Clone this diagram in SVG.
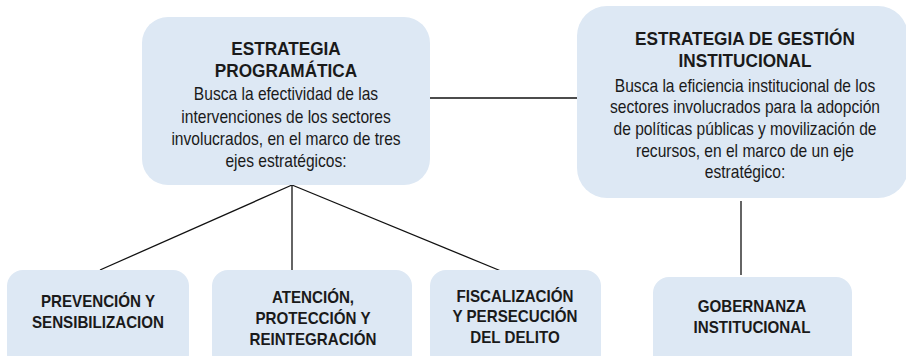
<svg xmlns="http://www.w3.org/2000/svg" width="906" height="356" viewBox="0 0 906 356">
<style>
.box{fill:#dde8f4;stroke:none}
.t{font-family:"Liberation Sans",Arial,sans-serif;fill:#1a1a1a;text-anchor:middle}
.h{font-weight:bold;font-size:18.5px}
.hs{font-weight:bold;font-size:16.3px}
.b{font-size:17.7px}
.c{stroke:#111;stroke-width:1.3;fill:none}
</style>
<rect width="906" height="356" fill="#ffffff"/>
<g id="connectors">
<line class="c" x1="430" y1="98" x2="578" y2="98"/>
<line class="c" x1="292" y1="185" x2="100" y2="270"/>
<line class="c" x1="292" y1="185" x2="292" y2="272"/>
<line class="c" x1="292" y1="185" x2="501" y2="271"/>
<line class="c" x1="741" y1="201" x2="741" y2="275"/>
</g>
<g id="programatica">
<rect class="box" x="142" y="17" width="288" height="168" rx="26"/>
<g transform="translate(286 0) scale(0.93 1)">
<text class="t h" x="0" y="55">ESTRATEGIA</text>
<text class="t h" x="0" y="77">PROGRAMÁTICA</text>
</g>
<g transform="translate(286 0) scale(0.88 1)">
<text class="t b" x="0" y="100">Busca la efectividad de las</text>
<text class="t b" x="0" y="123">intervenciones de los sectores</text>
<text class="t b" x="0" y="145">involucrados, en el marco de tres</text>
<text class="t b" x="0" y="167">ejes estratégicos:</text>
</g>
</g>
<g id="gestion">
<rect class="box" x="577" y="6" width="331" height="192" rx="30"/>
<g transform="translate(745 0) scale(0.93 1)">
<text class="t h" x="0" y="45">ESTRATEGIA DE GESTIÓN</text>
<text class="t h" x="0" y="67">INSTITUCIONAL</text>
</g>
<g transform="translate(745 0) scale(0.88 1)">
<text class="t b" x="0" y="92">Busca la eficiencia institucional de los</text>
<text class="t b" x="0" y="113">sectores involucrados para la adopción</text>
<text class="t b" x="0" y="135">de políticas públicas y movilización de</text>
<text class="t b" x="0" y="157">recursos, en el marco de un eje</text>
<text class="t b" x="0" y="178">estratégico:</text>
</g>
</g>
<g id="prevencion">
<rect class="box" x="7" y="270" width="182" height="100" rx="16"/>
<g transform="translate(98 0) scale(0.93 1)">
<text class="t hs" x="0" y="307">PREVENCIÓN Y</text>
<text class="t hs" x="0" y="328">SENSIBILIZACION</text>
</g>
</g>
<g id="atencion">
<rect class="box" x="212" y="270" width="200" height="100" rx="16"/>
<g transform="translate(313 0) scale(0.93 1)">
<text class="t hs" x="0" y="303">ATENCIÓN,</text>
<text class="t hs" x="0" y="324">PROTECCIÓN Y</text>
<text class="t hs" x="0" y="345">REINTEGRACIÓN</text>
</g>
</g>
<g id="fiscalizacion">
<rect class="box" x="430" y="270" width="171" height="100" rx="16"/>
<g transform="translate(515 0) scale(0.93 1)">
<text class="t hs" x="0" y="302">FISCALIZACIÓN</text>
<text class="t hs" x="0" y="322">Y PERSECUCIÓN</text>
<text class="t hs" x="0" y="343">DEL DELITO</text>
</g>
</g>
<g id="gobernanza">
<rect class="box" x="653" y="277" width="199" height="100" rx="16"/>
<g transform="translate(752 0) scale(0.93 1)">
<text class="t hs" x="0" y="312">GOBERNANZA</text>
<text class="t hs" x="0" y="333">INSTITUCIONAL</text>
</g>
</g>
</svg>
